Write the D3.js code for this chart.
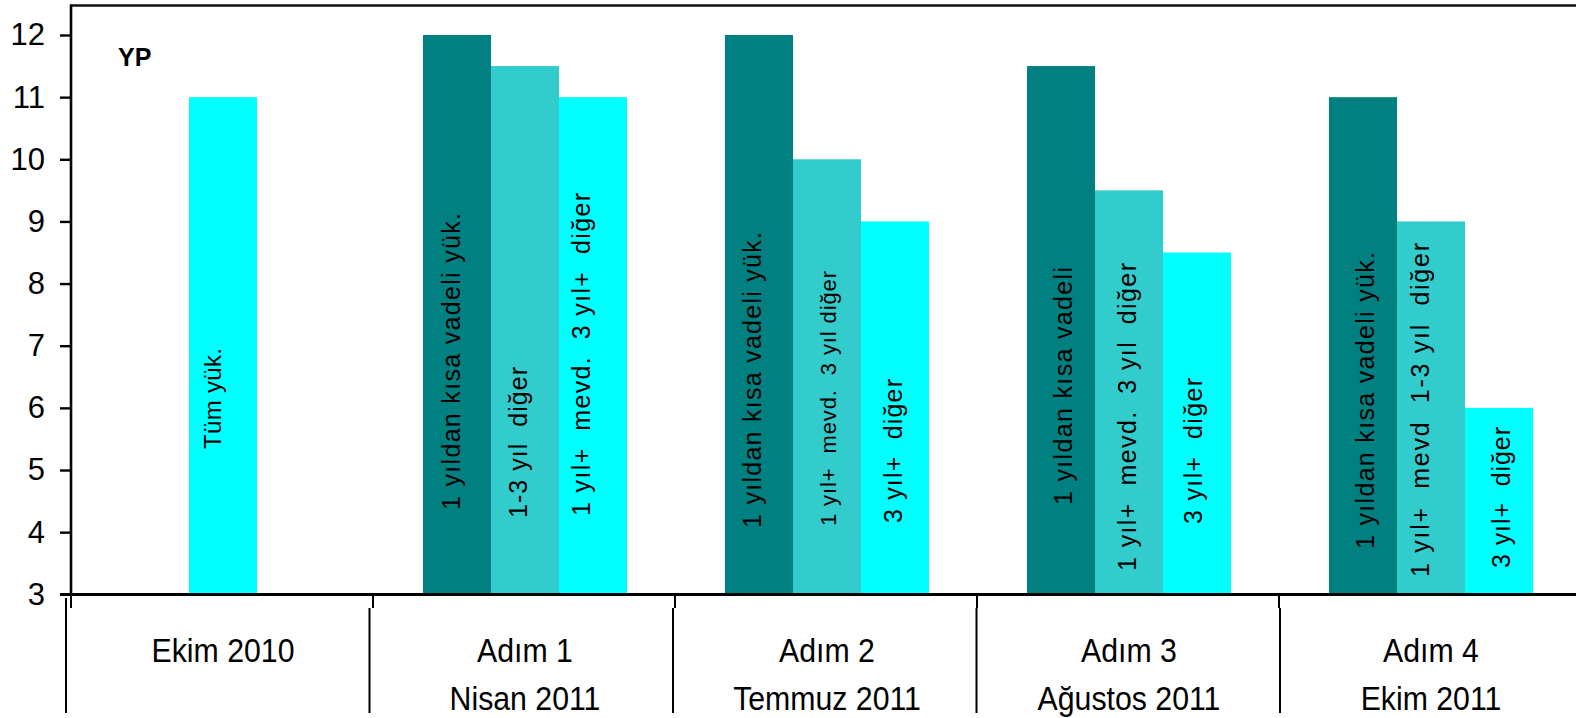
<!DOCTYPE html>
<html>
<head>
<meta charset="utf-8">
<script src="https://cdn.jsdelivr.net/npm/d3@7"></script>
<style>
  html, body { margin: 0; padding: 0; background: #ffffff; }
  svg { display: block; font-family: "Liberation Sans", Arial, sans-serif; }
  .bar-label { white-space: pre; }
</style>
</head>
<body>
<script>
// Categories: policy steps with their dates
const categories = ["Ekim 2010", "Adım 1", "Adım 2", "Adım 3", "Adım 4"];
const categoryDates = ["", "Nisan 2011", "Temmuz 2011", "Ağustos 2011", "Ekim 2011"];

// Reserve requirement ratios (%), FX liabilities
const allLiabilities = [11, null, null, null, null];        // single rate for all liabilities
const shortMaturity  = [null, 12, 12, 11.5, 11];            // < 1 year
const midMaturity    = [null, 11.5, 10, 9.5, 9];            // 1-3 year / 1 year+ deposits
const longMaturity   = [null, 11, 9, 8.5, 6];               // 3 year+ / other

// Text written along each bar
const allLiabilitiesText = ["Tüm yük.", null, null, null, null];
const shortMaturityText = [null, "1 yıldan kısa vadeli yük.", "1 yıldan kısa vadeli yük.", "1 yıldan kısa vadeli", "1 yıldan kısa vadeli yük."];
const midMaturityText = [null, "1-3 yıl  diğer", "1 yıl+  mevd.  3 yıl diğer", "1 yıl+  mevd.  3 yıl  diğer", "1 yıl+  mevd  1-3 yıl  diğer"];
const longMaturityText = [null, "1 yıl+  mevd.  3 yıl+  diğer", "3 yıl+  diğer", "3 yıl+  diğer", "3 yıl+  diğer"];

const yTicks = [3, 4, 5, 6, 7, 8, 9, 10, 11, 12];
const unitLabel = "YP";

// Series definitions: which slot inside the group and fill colour
const series = [
  { values: allLiabilities, text: allLiabilitiesText, slot: 1, color: "#00FFFF" },
  { values: shortMaturity,  text: shortMaturityText,  slot: 0, color: "#008080" },
  { values: midMaturity,    text: midMaturityText,    slot: 1, color: "#33CCCC" },
  { values: longMaturity,   text: longMaturityText,   slot: 2, color: "#00FFFF" }
];

// Placement of the in-bar text: horizontal nudge, baseline start, run length, font size
const textPlacement = [
  [{ dx: -11, bottom: 449, length: 101, size: 24 }, null, null, null, null],
  [null,
   { dx: -6, bottom: 510, length: 297, size: 25 },
   { dx: -7, bottom: 528, length: 296, size: 25 },
   { dx: 2,  bottom: 505, length: 238, size: 25 },
   { dx: 2,  bottom: 549, length: 297, size: 25 }],
  [null,
   { dx: -7, bottom: 518, length: 151, size: 25 },
   { dx: 1,  bottom: 526, length: 255, size: 22 },
   { dx: -2, bottom: 571, length: 308, size: 25 },
   { dx: -11, bottom: 577, length: 334, size: 25 }],
  [null,
   { dx: -12, bottom: 516, length: 323, size: 25 },
   { dx: -2, bottom: 523, length: 144, size: 25 },
   { dx: -4, bottom: 524, length: 146, size: 25 },
   { dx: 2,  bottom: 568, length: 141, size: 25 }]
];

const W = 1576, H = 718;
const plotLeft = 72, plotTop = 5, plotBottom = 594.5;

const svg = d3.select("body").append("svg")
  .attr("width", W).attr("height", H);

const x = d3.scaleBand()
  .domain(categories)
  .range([plotLeft, plotLeft + 302 * categories.length])
  .paddingInner(0).paddingOuter(0);

const slot = d3.scaleBand()
  .domain([0, 1, 2])
  .range([0, x.bandwidth()])
  .paddingInner(0).paddingOuter(0.72);

const y = d3.scaleLinear().domain([3, 12]).range([594.3, 35]);

// Bars
const barLayer = svg.append("g");
series.forEach((s) => {
  const rows = categories.map((c, i) => ({ c, i, v: s.values[i] })).filter(d => d.v != null);
  barLayer.selectAll(null)
    .data(rows)
    .join("rect")
    .attr("x", d => x(d.c) + slot(s.slot))
    .attr("y", d => y(d.v))
    .attr("width", slot.bandwidth())
    .attr("height", d => y(3) - y(d.v))
    .attr("fill", s.color);
});

// Rotated text inside bars
const labelLayer = svg.append("g");
series.forEach((s, si) => {
  categories.forEach((c, i) => {
    const t = s.text[i];
    const p = textPlacement[si][i];
    if (!t || !p || s.values[i] == null) return;
    const cx = x(c) + slot(s.slot) + slot.bandwidth() / 2 + p.dx;
    labelLayer.append("text")
      .attr("class", "bar-label")
      .attr("transform", `translate(${cx},${p.bottom}) rotate(-90)`)
      .attr("text-anchor", "start")
      .attr("dominant-baseline", "central")
      .attr("font-size", p.size)
      .attr("textLength", p.length)
      .attr("lengthAdjust", "spacing")
      .attr("fill", "#000")
      .text(t);
  });
});

// Plot frame: top border and vertical axis line
svg.append("line")
  .attr("x1", plotLeft - 1.5).attr("x2", W)
  .attr("y1", plotTop + 0.5).attr("y2", plotTop + 0.5)
  .attr("stroke", "#111").attr("stroke-width", 2.6);

// Y axis
const yAxis = d3.axisLeft(y).tickValues(yTicks).tickSize(11).tickPadding(15).tickSizeOuter(0);
const yG = svg.append("g")
  .attr("transform", `translate(${plotLeft - 1},0)`)
  .call(yAxis);
yG.select(".domain").remove();
yG.selectAll(".tick line").attr("stroke", "#000").attr("stroke-width", 2.4);
yG.selectAll(".tick text")
  .attr("font-size", 31)
  .attr("font-family", "'Liberation Sans', Arial, sans-serif")
  .attr("fill", "#000");

svg.append("line")
  .attr("x1", plotLeft - 1).attr("x2", plotLeft - 1)
  .attr("y1", plotTop - 0.5).attr("y2", plotBottom + 1.5)
  .attr("stroke", "#000").attr("stroke-width", 2.6);

// X axis baseline
svg.append("line")
  .attr("x1", plotLeft - 12).attr("x2", W)
  .attr("y1", plotBottom).attr("y2", plotBottom)
  .attr("stroke", "#000").attr("stroke-width", 3);

// Category boundaries: short ticks and the long separators below them
const boundaries = categories.map(c => x(c));
svg.append("g").selectAll("line")
  .data(boundaries)
  .join("line")
  .attr("x1", d => d - 1).attr("x2", d => d - 1)
  .attr("y1", plotBottom).attr("y2", 608)
  .attr("stroke", "#000").attr("stroke-width", 2);

svg.append("g").selectAll("line")
  .data(boundaries)
  .join("line")
  .attr("x1", (d, k) => d - 6 + 1.5 * k).attr("x2", (d, k) => d - 6 + 1.5 * k)
  .attr("y1", (d, k) => k === 0 ? 598 : 608).attr("y2", 713)
  .attr("stroke", "#000").attr("stroke-width", 2);

// Category labels (two lines)
const catG = svg.append("g");
categories.forEach((c, i) => {
  const cx = x(c) + x.bandwidth() / 2;
  catG.append("text")
    .attr("transform", `translate(${cx},662) scale(0.89,1)`)
    .attr("text-anchor", "middle")
    .attr("font-size", 34)
    .attr("fill", "#000")
    .text(c);
  if (categoryDates[i]) {
    catG.append("text")
      .attr("transform", `translate(${cx},710) scale(0.89,1)`)
      .attr("text-anchor", "middle")
      .attr("font-size", 34)
      .attr("fill", "#000")
      .text(categoryDates[i]);
  }
});

// Unit label
svg.append("text")
  .attr("x", 118).attr("y", 66)
  .attr("font-size", 25)
  .attr("font-weight", "bold")
  .attr("fill", "#000")
  .text(unitLabel);
</script>
</body>
</html>
